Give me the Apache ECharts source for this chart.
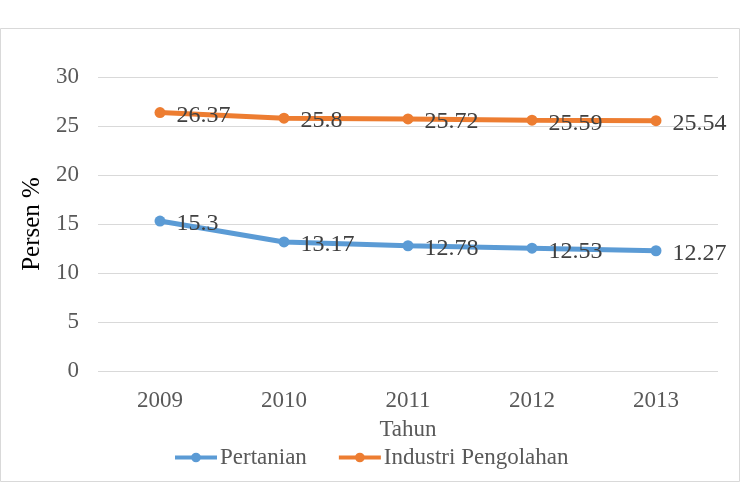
<!DOCTYPE html>
<html>
<head>
<meta charset="utf-8">
<script src="https://cdn.jsdelivr.net/npm/echarts@6/dist/echarts.min.js"></script>
<style>
  html, body { margin: 0; padding: 0; background: #fff; }
  #chart { width: 743px; height: 484px; }
</style>
</head>
<body>
<div id="chart"></div>
<script>
var years = ['2009', '2010', '2011', '2012', '2013'];
var pertanian = [15.3, 13.17, 12.78, 12.53, 12.27];
var industri = [26.37, 25.8, 25.72, 25.59, 25.54];

var chart = echarts.init(document.getElementById('chart'));
var serif = '"Liberation Serif", "Times New Roman", serif';

function lineSeries(name, data, color) {
    return {
        name: name,
        type: 'line',
        data: data,
        symbol: 'circle',
        symbolSize: 11,
        lineStyle: { width: 5, color: color },
        itemStyle: { color: color },
        label: {
            show: true,
            position: 'right',
            distance: 11,
            offset: [0, 3],
            fontFamily: serif,
            fontSize: 24,
            color: '#404040'
        },
        animation: false
    };
}

var option = {
    backgroundColor: '#fff',
    graphic: [{
        type: 'rect',
        shape: { x: 0.5, y: 28.5, width: 739, height: 453 },
        style: { fill: 'none', stroke: '#d9d9d9', lineWidth: 1 },
        silent: true
    }],
    grid: { left: 98, right: 25, top: 77, bottom: 113 },
    legend: {
        bottom: 10,
        left: 168,
        itemGap: 30,
        itemWidth: 42,
        itemHeight: 12,
        lineStyle: { width: 4 },
        textStyle: { fontFamily: serif, fontSize: 23, color: '#595959', padding: [0, 0, 0, -2] },
        data: ['Pertanian', 'Industri Pengolahan']
    },
    xAxis: {
        type: 'category',
        data: years,
        name: 'Tahun',
        nameLocation: 'middle',
        nameGap: 47,
        nameTextStyle: { fontFamily: serif, fontSize: 23, color: '#595959' },
        axisLine: { show: false },
        axisTick: { show: false },
        axisLabel: { fontFamily: serif, fontSize: 23, color: '#595959', margin: 18 }
    },
    yAxis: {
        type: 'value',
        min: 0,
        max: 30,
        interval: 5,
        name: 'Persen %',
        nameLocation: 'middle',
        nameGap: 50,
        nameTextStyle: { fontFamily: serif, fontSize: 25, color: '#000' },
        axisLine: { show: false },
        axisTick: { show: false },
        axisLabel: { fontFamily: serif, fontSize: 23, color: '#595959', margin: 19 },
        splitLine: { lineStyle: { color: '#d9d9d9', width: 1 } }
    },
    series: [
        lineSeries('Pertanian', pertanian, '#5b9bd5'),
        lineSeries('Industri Pengolahan', industri, '#ed7d31')
    ]
};

chart.setOption(option);
</script>
</body>
</html>
